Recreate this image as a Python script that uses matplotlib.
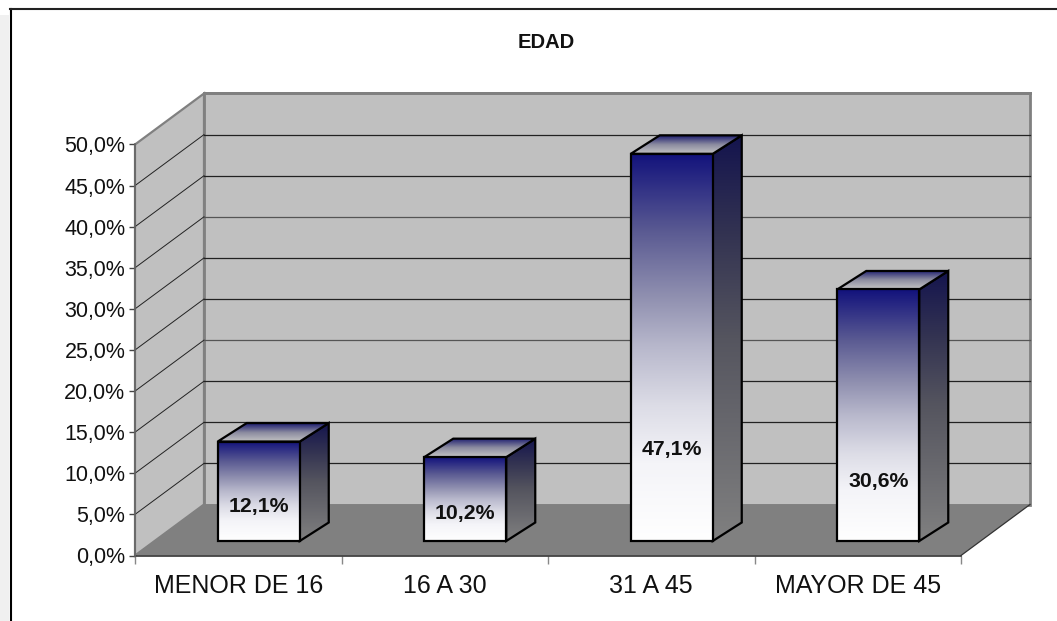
import numpy as np
import matplotlib
matplotlib.use("Agg")
import matplotlib.pyplot as plt
from matplotlib.colors import LinearSegmentedColormap
from matplotlib.lines import Line2D
from matplotlib.patches import Polygon, Rectangle

plt.rcParams['font.family'] = ['Liberation Sans', 'DejaVu Sans']

title = "EDAD"
categories = ["MENOR DE 16", "16 A 30", "31 A 45", "MAYOR DE 45"]
values = [12.1, 10.2, 47.1, 30.6]
value_labels = ["12,1%", "10,2%", "47,1%", "30,6%"]
y_ticks = [0, 5, 10, 15, 20, 25, 30, 35, 40, 45, 50]
y_tick_labels = ["0,0%", "5,0%", "10,0%", "15,0%", "20,0%", "25,0%",
                 "30,0%", "35,0%", "40,0%", "45,0%", "50,0%"]
label_y = [6.0, 5.05, 12.95, 8.95]

W, H = 1057, 621
fig = plt.figure(figsize=(W / 100, H / 100), dpi=100, facecolor="white")
L, R, T, B = 135, 961, 144.5, 555.5
ax = fig.add_axes([L / W, 1 - B / H, (R - L) / W, (B - T) / H])
ax.set_xlim(-0.5, 3.5)
ax.set_ylim(0, 50)
for s in ax.spines.values():
    s.set_visible(False)
ax.patch.set_visible(False)

# 3D projection constants (axis units)
WALL_DX, WALL_DY = 69 / 206.5, 51 / 8.22
BAR_LIFT = 14.5 / 8.22
BAR_SHIFT = 20.5 / 206.5
BAR_W = 82 / 206.5
BAR_DX, BAR_DY = 29 / 206.5, 18.5 / 8.22

x0, x1 = -0.5, 3.5
wall_col, floor_col = "#c0c0c0", "#808080"

# back wall, side wall, floor
ax.add_patch(Polygon([(x0 + WALL_DX, WALL_DY), (x1 + WALL_DX, WALL_DY),
                      (x1 + WALL_DX, 50 + WALL_DY), (x0 + WALL_DX, 50 + WALL_DY)],
                     fc=wall_col, ec=floor_col, lw=2, clip_on=False, zorder=1))
ax.add_patch(Polygon([(x0, 0), (x0 + WALL_DX, WALL_DY), (x0 + WALL_DX, 50 + WALL_DY), (x0, 50)],
                     fc=wall_col, ec=floor_col, lw=1.6, clip_on=False, zorder=1))
ax.add_patch(Polygon([(x0, 0), (x1, 0), (x1 + WALL_DX, WALL_DY), (x0 + WALL_DX, WALL_DY)],
                     fc=floor_col, ec="none", clip_on=False, zorder=1.5))

# gridlines (the top edge of the walls keeps the wall border colour)
for t in y_ticks[1:-1]:
    col = "#555555" if t in (35, 20) else "#222222"
    ax.plot([x0, x0 + WALL_DX], [t, t + WALL_DY], color="#222222", lw=0.7,
            clip_on=False, zorder=2)
    ax.plot([x0 + WALL_DX, x1 + WALL_DX], [t + WALL_DY, t + WALL_DY],
            color=col, lw=0.9, clip_on=False, zorder=2)
ax.plot([x0 + WALL_DX, x1 + WALL_DX], [50 + WALL_DY - 50 * 0 - 0, 50 + WALL_DY],
        color=floor_col, lw=2, clip_on=False, zorder=2)
ax.plot([x0 + WALL_DX, x1 + WALL_DX], [45 + WALL_DY + 5, 45 + WALL_DY + 5],
        color=floor_col, lw=2, clip_on=False, zorder=2)

# outer edges of the chart box
ax.plot([x1, x1 + WALL_DX], [0, WALL_DY], color="#333333", lw=0.9, clip_on=False, zorder=2)
ax.plot([x0, x1], [0, 0], color="#333333", lw=1.2, clip_on=False, zorder=2)
ax.plot([x0, x0], [0, 50], color="#666666", lw=1.2, clip_on=False, zorder=2)

navy_white = LinearSegmentedColormap.from_list(
    "f", [(0, "#12127c"), (0.2, "#5a5a92"), (0.37, "#9090b0"), (0.5, "#b8b8cc"),
          (0.65, "#dcdce6"), (0.8, "#f4f4f8"), (1, "#ffffff")])
navy_gray = LinearSegmentedColormap.from_list(
    "s", [(0, "#14144e"), (0.25, "#343452"), (0.5, "#55555f"), (1, "#808080")])
top_grad = LinearSegmentedColormap.from_list("t", ["#1a1a6e", "#8c8ca0", "#c4c4c4"])


def gradient_poly(pts, cmap, z):
    pts = np.array(pts)
    poly = Polygon(pts, fc="none", ec="none", transform=ax.transData, clip_on=False)
    ax.add_patch(poly)
    im = ax.imshow(np.linspace(0, 1, 256).reshape(-1, 1), cmap=cmap, aspect="auto",
                   extent=[pts[:, 0].min(), pts[:, 0].max(), pts[:, 1].min(), pts[:, 1].max()],
                   origin="upper", zorder=z, interpolation="bilinear")
    im.set_clip_box(fig.bbox)
    im.set_clip_path(poly)
    ax.add_patch(Polygon(pts, fc="none", ec="black", lw=1.6, clip_on=False,
                         zorder=z + 0.1, joinstyle="miter"))


for i, v in enumerate(values):
    a = i + BAR_SHIFT - BAR_W / 2
    b = i + BAR_SHIFT + BAR_W / 2
    y0 = BAR_LIFT
    y1 = BAR_LIFT + v
    gradient_poly([(b, y0), (b + BAR_DX, y0 + BAR_DY), (b + BAR_DX, y1 + BAR_DY), (b, y1)],
                  navy_gray, 3)
    gradient_poly([(a, y1), (b, y1), (b + BAR_DX, y1 + BAR_DY), (a + BAR_DX, y1 + BAR_DY)],
                  top_grad, 3.2)
    gradient_poly([(a, y0), (b, y0), (b, y1), (a, y1)], navy_white, 3.4)
    ax.text(i + BAR_SHIFT, label_y[i], value_labels[i], ha="center", va="center",
            fontsize=15.3, fontweight="bold", color="#111111", zorder=5)

ax.set_xlim(x0, x1)
ax.set_ylim(0, 50)

ax.set_yticks(y_ticks)
ax.set_yticklabels(y_tick_labels, fontsize=15.5, color="#111111")
ax.tick_params(axis="y", length=4, width=1, color="#444444", pad=3)
ax.set_xticks(range(len(categories)))
ax.set_xticklabels(categories, fontsize=18, color="#111111")
ax.tick_params(axis="x", which="major", length=0, pad=13.5)
ax.set_xticks([-0.5, 0.5, 1.5, 2.5, 3.5], minor=True)
ax.tick_params(axis="x", which="minor", length=6, width=1, color="#888888")

fig.text(546 / W, 1 - 42.5 / H, title, ha="center", va="center",
         fontsize=14.5, fontweight="bold", color="#111111")

# outer frame and grey strip of the page
fig.add_artist(Rectangle((0, 0), 9 / W, 1 - 15 / H, transform=fig.transFigure,
                         fc="#f0f0f0", ec="none"))
fig.add_artist(Line2D([10.5 / W, 10.5 / W], [0, 1 - 8.5 / H], transform=fig.transFigure,
                      color="black", lw=1.5))
fig.add_artist(Line2D([10 / W, 1], [1 - 8.5 / H, 1 - 8.5 / H], transform=fig.transFigure,
                      color="#222222", lw=1.5))

fig.savefig("out.png", dpi=100, facecolor="white")
